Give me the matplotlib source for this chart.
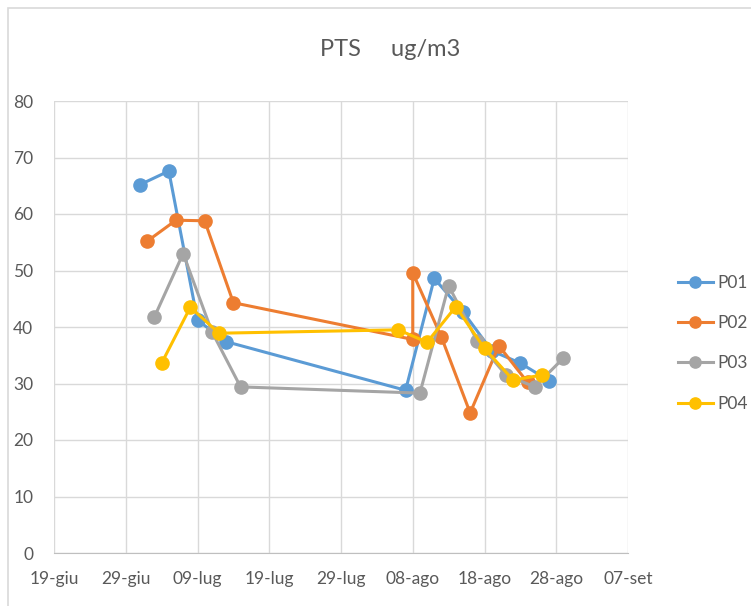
import pandas as pd
import matplotlib
matplotlib.use("Agg")
import matplotlib.pyplot as plt
from matplotlib.patches import Rectangle

plt.rcParams['font.family'] = ['Lato', 'DejaVu Sans']

# data
p01_dates = ['2020-07-01', '2020-07-05', '2020-07-09', '2020-07-13', '2020-08-07',
             '2020-08-11', '2020-08-15', '2020-08-19', '2020-08-23', '2020-08-27']
p01_vals = [65.2, 67.6, 41.2, 37.4, 28.8, 48.6, 42.7, 35.8, 33.6, 30.5]

p02_dates = ['2020-07-02', '2020-07-06', '2020-07-10', '2020-07-14', '2020-08-08',
             '2020-08-08', '2020-08-12', '2020-08-16', '2020-08-20', '2020-08-24']
p02_vals = [55.2, 58.9, 58.8, 44.3, 37.8, 49.6, 38.2, 24.8, 36.7, 30.2]

p03_dates = ['2020-07-03', '2020-07-07', '2020-07-11', '2020-07-15', '2020-08-09',
             '2020-08-13', '2020-08-17', '2020-08-21', '2020-08-25', '2020-08-29']
p03_vals = [41.8, 53.0, 39.2, 29.4, 28.3, 47.3, 37.5, 31.5, 29.4, 34.5]

p04_dates = ['2020-07-04', '2020-07-08', '2020-07-12', '2020-08-06', '2020-08-10',
             '2020-08-14', '2020-08-18', '2020-08-22', '2020-08-26']
p04_vals = [33.6, 43.5, 38.9, 39.5, 37.3, 43.6, 36.2, 30.6, 31.5]

series = [('P01', p01_dates, p01_vals, '#5B9BD5'),
          ('P02', p02_dates, p02_vals, '#ED7D31'),
          ('P03', p03_dates, p03_vals, '#A5A5A5'),
          ('P04', p04_dates, p04_vals, '#FFC000')]

tick_labels = ['19-giu', '29-giu', '09-lug', '19-lug', '29-lug',
               '08-ago', '18-ago', '28-ago', '07-set']
ticks = pd.date_range('2020-06-19', periods=len(tick_labels), freq='10D')

text_col = '#595959'
grid_col = '#D9D9D9'

fig = plt.figure(figsize=(7.51, 6.06), dpi=100)
# chart area border (right and bottom edges fall outside the picture)
fig.patches.append(Rectangle((8 / 751, -0.05), 1.1, 1 - 8 / 606 + 0.05,
                             transform=fig.transFigure, fill=False,
                             edgecolor=grid_col, linewidth=1.2))

ax = fig.add_axes([54 / 751, 1 - 553 / 606, (628 - 54) / 751, (553 - 101) / 606])

for name, d, v, c in series:
    ax.plot(pd.to_datetime(d), v, color=c, linewidth=2.2, marker='o',
            markersize=9.5, label=name, zorder=3)

ax.set_xlim(ticks[0], ticks[-1])
ax.set_ylim(0, 80)
ax.set_yticks(range(0, 81, 10))
ax.set_xticks(ticks)
ax.set_xticklabels(tick_labels)

ax.grid(True, color=grid_col, linewidth=1)
ax.set_axisbelow(True)
for s in ['top', 'right', 'left']:
    ax.spines[s].set_visible(False)
ax.spines['bottom'].set_color('#BFBFBF')
ax.tick_params(length=0, colors=text_col, labelsize=12.5)
ax.tick_params(axis='x', pad=13)
ax.tick_params(axis='y', pad=15)

fig.text(390 / 751, 1 - 50 / 606, 'PTS     ug/m3', ha='center', va='center',
         fontsize=17, color=text_col)

leg = ax.legend(loc='upper left', bbox_to_anchor=(1.06, 0.65), frameon=False,
                fontsize=12.5, labelspacing=1.4, handlelength=2.0,
                handletextpad=0.25, markerscale=0.85)
for t in leg.get_texts():
    t.set_color(text_col)

fig.savefig('out.png', dpi=100)
